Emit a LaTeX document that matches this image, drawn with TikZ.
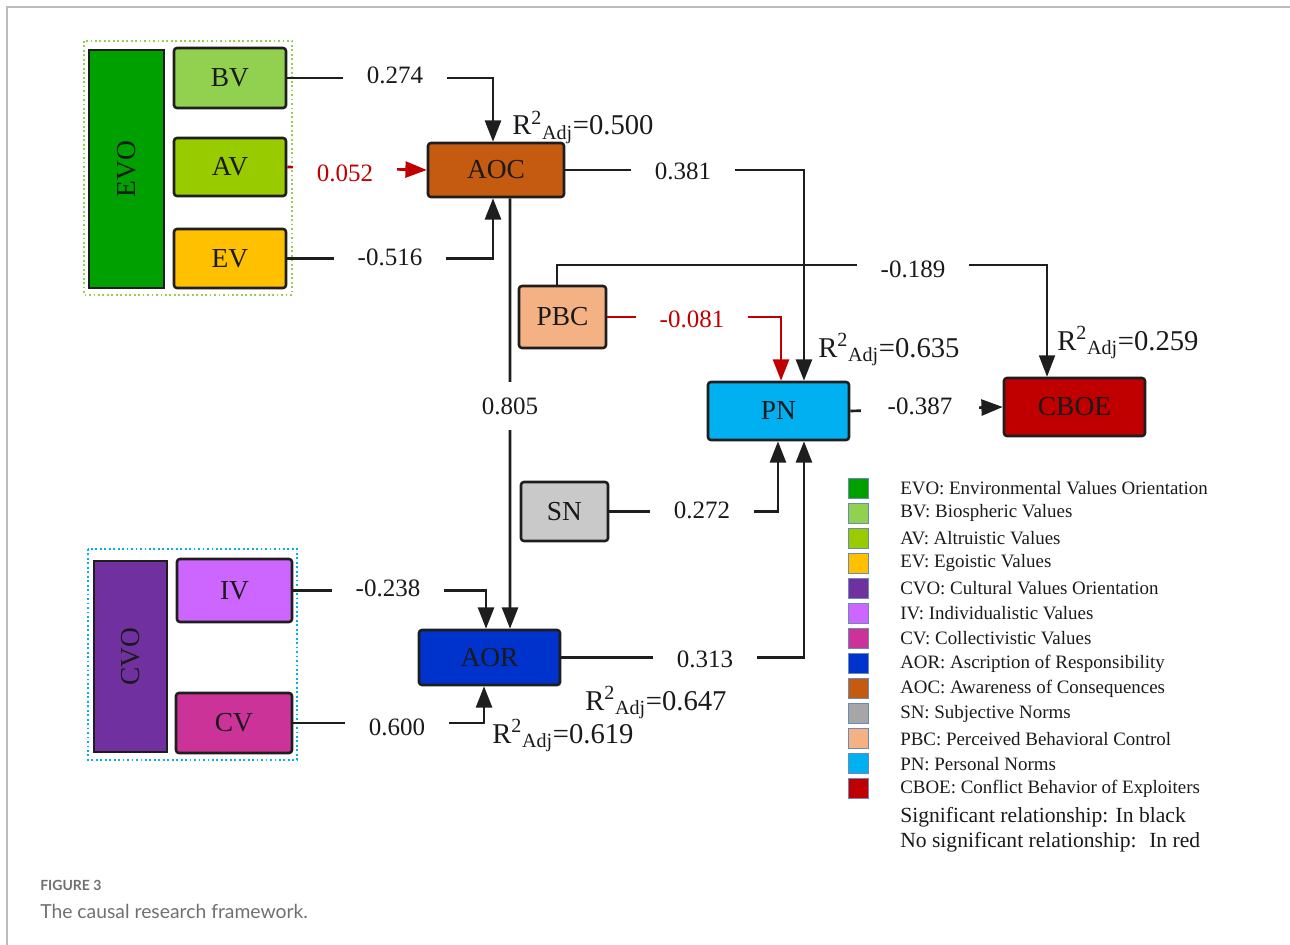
\documentclass[tikz,border=0pt]{standalone}
\usepackage{fontspec}
\setmainfont{Liberation Serif}
\newfontfamily\capfont{Lato}
\usetikzlibrary{arrows.meta,calc}
\newdimen\px \px=0.75pt
\definecolor{cEVO}{HTML}{00A000}
\definecolor{cBV}{HTML}{92D050}
\definecolor{cAV}{HTML}{99CC00}
\definecolor{cEV}{HTML}{FFC000}
\definecolor{cCVO}{HTML}{7030A0}
\definecolor{cIV}{HTML}{CC66FF}
\definecolor{cCV}{HTML}{CC3399}
\definecolor{cAOR}{HTML}{0033CC}
\definecolor{cAOC}{HTML}{C55A11}
\definecolor{cSN}{HTML}{C9C9C9}
\definecolor{cSNleg}{HTML}{A6A6A6}
\definecolor{cPBC}{HTML}{F4B183}
\definecolor{cPN}{HTML}{00B0F0}
\definecolor{cCBOE}{HTML}{C00000}
\definecolor{lin}{HTML}{1E1E1E}
\definecolor{txt}{HTML}{1A1A1A}
\definecolor{redl}{HTML}{C00000}
\definecolor{frame}{HTML}{BBBBBB}
\definecolor{legline}{HTML}{6A8AB8}
\definecolor{capgray}{HTML}{707070}
\begin{document}
\begin{tikzpicture}[x=0.75pt,y=-0.75pt,
  box/.style={draw=lin, line width=1.9pt, rounded corners=2.2pt, inner sep=0pt,
    text=txt, font=\fontsize{20.6}{24}\selectfont},
  conn/.style={line width=2pt, draw=lin, -{Triangle[width=12pt,length=16pt]}},
  thinconn/.style={conn, line width=1.2pt},
  redconn/.style={conn, draw=redl},
  lab/.style={fill=white, inner xsep=18pt, inner ysep=0.75pt, text=txt,
    font=\fontsize{18.75}{22}\selectfont},
  redlab/.style={lab, text=redl},
  rsq/.style={anchor=base west, text=txt, inner sep=0pt, font=\fontsize{21.5}{24}\selectfont},
  legsq/.style={draw=legline, line width=0.75pt, minimum width=15pt, minimum height=15pt, inner sep=0pt},
  legtxt/.style={anchor=west, inner sep=0pt, text=txt, font=\fontsize{14.2}{17}\selectfont},
  legbig/.style={anchor=west, inner sep=0pt, text=txt, font=\fontsize{16.2}{19}\selectfont}
]
\useasboundingbox (0,0) rectangle (1290,945);
% frame
\draw[frame, line width=1.5pt] (7,945) -- (7,7) -- (1290,7);
% group frames
\draw[cBV, line width=1.35pt, dotted] (84,41) rectangle (292,295);
\draw[cPN, line width=1.35pt, dotted] (88,549) rectangle (297,760);
% boxes
\node[box, fill=cEVO, rounded corners=0pt, minimum width=75\px, minimum height=238\px] (EVO) at (126.5,169) {\rotatebox{90}{EVO}};
\node[box, fill=cBV, minimum width=112\px, minimum height=60\px] (BV) at (230,78) {BV};
\node[box, fill=cAV, minimum width=112\px, minimum height=58\px] (AV) at (230,167) {AV};
\node[box, fill=cEV, minimum width=112\px, minimum height=59\px] (EV) at (230,258.5) {EV};
\node[box, fill=cAOC, minimum width=136\px, minimum height=54\px] (AOC) at (496,170) {AOC};
\node[box, fill=cPBC, minimum width=87\px, minimum height=62\px] (PBC) at (562.5,317) {PBC};
\node[box, fill=cPN, minimum width=141\px, minimum height=58\px] (PN) at (778.5,411) {PN};
\node[box, fill=cCBOE, minimum width=141\px, minimum height=58\px] (CBOE) at (1074.5,407) {CBOE};
\node[box, fill=cSN, minimum width=87\px, minimum height=59\px] (SN) at (564.5,511.5) {SN};
\node[box, fill=cAOR, minimum width=141\px, minimum height=55\px] (AOR) at (489.5,657.5) {AOR};
\node[box, fill=cCVO, rounded corners=0pt, minimum width=73\px, minimum height=191\px] (CVO) at (130.5,656.5) {\rotatebox{90}{CVO}};
\node[box, fill=cIV, minimum width=115\px, minimum height=63\px] (IV) at (234.5,590.5) {IV};
\node[box, fill=cCV, minimum width=116\px, minimum height=60\px] (CV) at (234,723) {CV};
% connectors
\draw[conn] (BV.east) -| ([xshift=-2.25pt]AOC.north);
\draw[redconn] (AV.east) -- (AOC.west);
\draw[conn] (EV.east) -| ([xshift=-2.25pt]AOC.south);
\draw[conn] (AOC.east) -| ([xshift=19.1pt]PN.north);
\draw[conn] ([xshift=10.5pt]AOC.south) -- ([xshift=15.4pt]AOR.north);
\draw[thinconn] ([xshift=-4.1pt]PBC.north) -- ++(0,-20) -| ([xshift=-20.6pt]CBOE.north);
\draw[redconn] (PBC.east) -| ([xshift=1.9pt]PN.north);
\draw[conn] (PN.east) -- (CBOE.west);
\draw[conn] (SN.east) -| ([xshift=-0.4pt]PN.south);
\draw[conn] (AOR.east) -| ([xshift=19.1pt]PN.south);
\draw[conn] (IV.east) -| ([xshift=-2.6pt]AOR.north);
\draw[conn] (CV.east) -| ([xshift=-4.1pt]AOR.south);
% edge labels
\node[lab] (l1) at (395,75) {0.274};
\node[redlab] (l2) at (345,173) {0.052};
\node[lab] (l3) at (390,257) {-0.516};
\node[lab] (l4) at (683,171) {0.381};
\node[lab, inner xsep=3pt, inner ysep=12pt] (l5) at (510,406) {0.805};
\node[lab] (l6) at (913,269) {-0.189};
\node[redlab] (l7) at (692,319) {-0.081};
\node[lab, inner xsep=20pt] (l8) at (920,406) {-0.387};
\node[lab] (l9) at (702,510) {0.272};
\node[lab] (l10) at (705,659) {0.313};
\node[lab] (l11) at (388,588) {-0.238};
\node[lab] (l12) at (397,727) {0.600};
% R2 labels
\node[rsq] (r1) at (512,135) {R\textsuperscript{2}\textsubscript{Adj}=0.500};
\node[rsq] (r2) at (818,357) {R\textsuperscript{2}\textsubscript{Adj}=0.635};
\node[rsq] (r3) at (1057,350) {R\textsuperscript{2}\textsubscript{Adj}=0.259};
\node[rsq] (r4) at (585,710) {R\textsuperscript{2}\textsubscript{Adj}=0.647};
\node[rsq] (r5) at (492,743) {R\textsuperscript{2}\textsubscript{Adj}=0.619};
% legend
\foreach \c/\t [count=\i] in {
  cEVO/EVO: Environmental Values Orientation,
  cBV/BV: Biospheric Values,
  cAV/AV: Altruistic Values,
  cEV/EV: Egoistic Values,
  cCVO/CVO: Cultural Values Orientation,
  cIV/IV: Individualistic Values,
  cCV/CV: Collectivistic Values,
  cAOR/AOR: Ascription of Responsibility,
  cAOC/AOC: Awareness of Consequences,
  cSNleg/SN: Subjective Norms,
  cPBC/PBC: Perceived Behavioral Control,
  cPN/PN: Personal Norms,
  cCBOE/CBOE: Conflict Behavior of Exploiters}{
  \node[legsq, fill=\c] (sq\i) at (858,{488+(\i-1)*25.08}) {};
  \node[legtxt] (lt\i) at (900,{488+(\i-1)*25.08}) {\t};
}
\node[legbig] (sig) at (900,817) {Significant relationship: In black};
\node[legbig] (nosig) at (900,842) {No significant relationship:~ In red};
% caption
\node[anchor=west, inner sep=0pt, text=capgray, font=\capfont\bfseries\fontsize{10.5}{12}\selectfont] (fig) at (40,885) {FIGURE 3};
\node[anchor=west, inner sep=0pt, text=capgray, font=\capfont\fontsize{14.5}{17}\selectfont] (cap) at (40,911) {The causal research framework.};
\end{tikzpicture}
\end{document}
